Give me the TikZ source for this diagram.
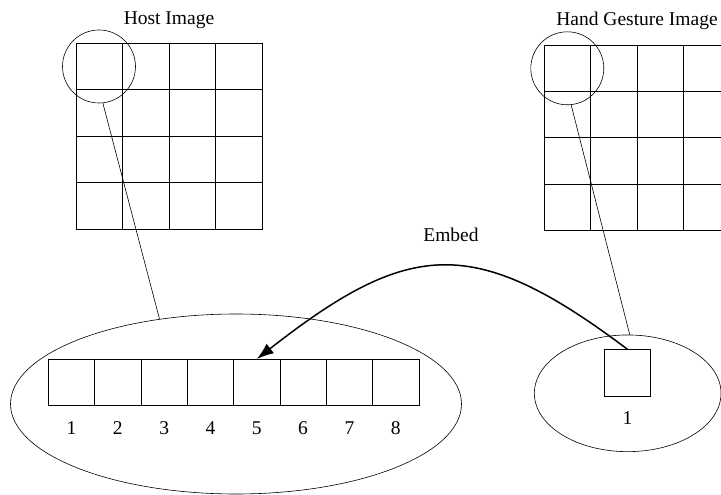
\documentclass[tikz,border=0pt]{standalone}
\usepackage{fontspec}
\setmainfont{Liberation Serif}
\usetikzlibrary{shapes.geometric,arrows.meta}
\begin{document}
\begin{tikzpicture}[x=1pt,y=1pt,
  cell/.style={draw, line width=0.8pt, minimum width=46.5pt, minimum height=46.5pt, inner sep=0pt, outer sep=0pt},
  lens/.style={draw, circle, line width=0.6pt, minimum size=73pt, inner sep=0pt},
  oval/.style={draw, ellipse, line width=0.6pt, inner sep=0pt},
  lab/.style={font=\fontsize{19.5}{23}\selectfont, inner sep=0pt, anchor=base},
  link/.style={line width=0.6pt},
  embedarrow/.style={line width=1.5pt, -{Latex[length=17pt,width=12pt]}}]
\useasboundingbox (0,0) rectangle (721,-495);

% Host image grid
\foreach \i in {0,...,3} \foreach \j in {0,...,3}
  \node[cell] (h\i\j) at ({76+23.25+46.5*\i},{-(43+23.25+46.5*\j)}) {};
\node[lens] (hc) at (99,-66.5) {};
\node[lab] (ht) at (169,-25) {Host Image};

% Hand gesture image grid
\foreach \i in {0,...,3} \foreach \j in {0,...,3}
  \node[cell, minimum width=46.35pt, minimum height=46.3pt] (g\i\j) at ({544.3+23.17+46.35*\i},{-(45+23.15+46.3*\j)}) {};
\node[lens] (gc) at (567.3,-68.3) {};
\node[lab] (gt) at (637,-26) {Hand Gesture Image};

% Bottom ellipses
\node[oval, minimum width=451pt, minimum height=180pt] (he) at (236,-404) {};
\node[oval, minimum width=186.7pt, minimum height=116.7pt] (ge) at (627.7,-393.3) {};

\foreach \k in {1,...,8} {
  \node[cell, minimum width=46.33pt, minimum height=46pt] (b\k) at ({48.3+23.17+46.33*(\k-1)},-382) {};
  \node[lab] (n\k) at ({48.3+23.17+46.33*(\k-1)},-434) {\k};
}
\node[cell, minimum width=46.4pt, minimum height=46.7pt] (gs) at (627.5,-372.7) {};
\node[lab] (gn) at (627.5,-424) {1};

% Links
\draw[link] (hc.-84) -- (he.132);
\draw[link] (gc.-84) -- (ge.88);

% Embed arrow
\draw[embedarrow] (gs.north) to[out=143,in=38,looseness=1.33] (b5.north);
\node[lab] (et) at (451,-241.5) {Embed};
\end{tikzpicture}
\end{document}
